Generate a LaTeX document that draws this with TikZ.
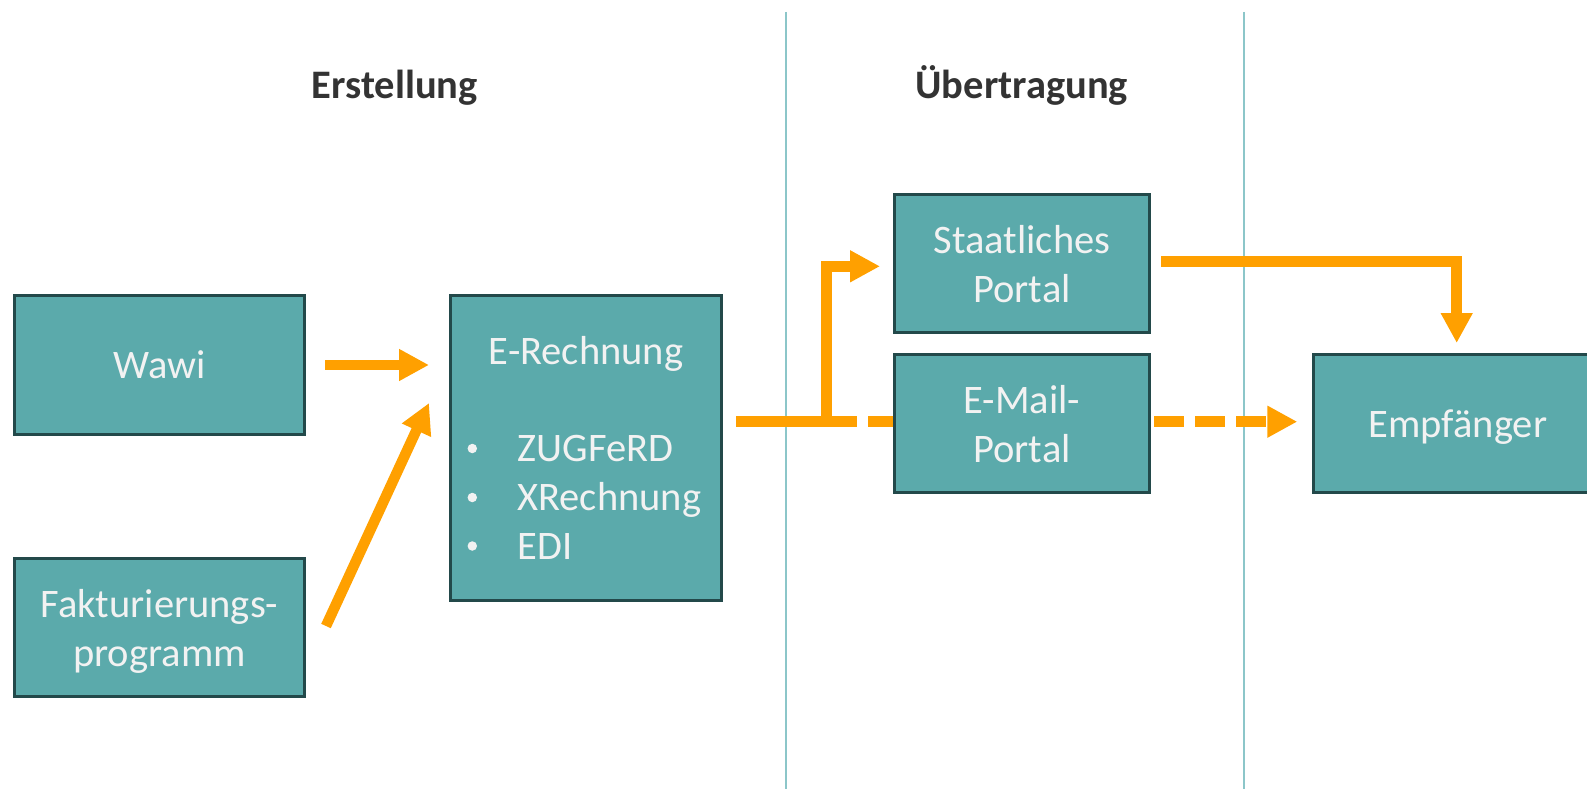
\documentclass[tikz,border=0pt]{standalone}
\usepackage{fontspec}
\setmainfont{Carlito}
\usetikzlibrary{arrows.meta,calc}
\definecolor{boxfill}{HTML}{5BAAAB}
\definecolor{boxedge}{HTML}{23494A}
\definecolor{boxtext}{HTML}{F2F2F2}
\definecolor{flow}{HTML}{FFA000}
\definecolor{divider}{HTML}{8CC6C9}
\definecolor{headtext}{HTML}{333333}
\tikzset{
  box/.style={draw=boxedge, line width=3pt, fill=boxfill, text=boxtext,
    outer sep=1.5pt, inner sep=0pt, text depth=0pt, align=center,
    font=\fontsize{40.5}{49}\selectfont},
  head/.style={text=headtext, font=\fontsize{40.5}{48}\bfseries\selectfont, anchor=base},
  flowline/.style={draw=flow, line width=10.5pt, line join=miter,
    -{Triangle[length=30pt,width=30pt]}},
  flowdash/.style={flowline, dash pattern=on 30pt off 11pt},
  sep/.style={draw=divider, line width=1.6pt},
  itemtext/.style={text=boxtext, font=\fontsize{40.5}{49}\selectfont, anchor=base west, inner sep=0pt},
  dot/.style={circle, fill=boxtext, inner sep=0pt, minimum size=9.5pt}
}
\begin{document}
\begin{tikzpicture}[x=1pt, y=-1pt]
\useasboundingbox (0,0) rectangle (1587,789);
% dividers
\coordinate (d1t) at (785.7,12);
\coordinate (d1b) at (785.7,789);
\coordinate (d2t) at (1244,12);
\coordinate (d2b) at (1244,789);
\draw[sep] (d1t) -- (d1b);
\draw[sep] (d2t) -- (d2b);
% headers
\node[head] (h1) at (394.7,99) {Erstellung};
\node[head] (h2) at (1021.7,99) {Übertragung};
% boxes
\node[box, minimum width=290pt, minimum height=139pt] (wawi) at (159.5,365) {Wawi};
\node[box, minimum width=290pt, minimum height=138pt] (fakt) at (159.5,627.5) {Fakturierungs-\\programm};
\node[box, minimum width=271pt, minimum height=305pt] (erech) at (586,448) {};
\node[box, minimum width=255pt, minimum height=138pt] (staat) at (1022,263.5) {Staatliches\\Portal};
\node[box, minimum width=255pt, minimum height=138pt] (email) at (1022,423.5) {E-Mail-\\Portal};
\node[box, minimum width=289pt, minimum height=138pt] (empf) at (1458,423.5) {Empfänger};
% E-Rechnung content
\node[text=boxtext, font=\fontsize{40.5}{49}\selectfont, anchor=base, inner sep=0pt] (ertitle) at (586,364) {E-Rechnung};
\node[itemtext] (i1) at (517.3,461.7) {ZUGFeRD};
\node[itemtext] (i2) at (517.3,510.7) {XRechnung};
\node[itemtext] (i3) at (517.3,559.5) {EDI};
\node[dot] (b1) at (472.3,448.5) {};
\node[dot] (b2) at (472.3,497.5) {};
\node[dot] (b3) at (472.3,546) {};
% connectors
\coordinate (w1) at ($(wawi.east)+(19,0)$);
\coordinate (w2) at ($(erech.west)+(-20,-83)$);
\draw[flowline] (w1) -- (w2);
\coordinate (f1) at ($(fakt.east)+(20,-1.5)$);
\coordinate (f2) at ($(erech.west)+(-20,-45)$);
\draw[flowline] (f1) -- (f2);
\coordinate (e1) at ($(erech.east)+(13,-26.3)$);
\coordinate (e2) at ($(email.west)+(0,-1.8)$);
\draw[flowdash, -, dash phase=32pt] (e1) -- (e2);
\coordinate (ej) at (826.5,421.7);
\coordinate (s1) at ($(staat.west)+(-13,2.8)$);
\draw[flowline] (e1) -- (ej) |- (s1);
\coordinate (s2) at ($(staat.east)+(10,-1.8)$);
\coordinate (p1) at ($(empf.north)+(-1.3,-10)$);
\draw[flowline] (s2) -| (p1);
\coordinate (m1) at ($(email.east)+(3,-1.8)$);
\coordinate (m2) at ($(empf.west)+(-14.7,-1.8)$);
\draw[flowdash] (m1) -- (m2);
\end{tikzpicture}
\end{document}
